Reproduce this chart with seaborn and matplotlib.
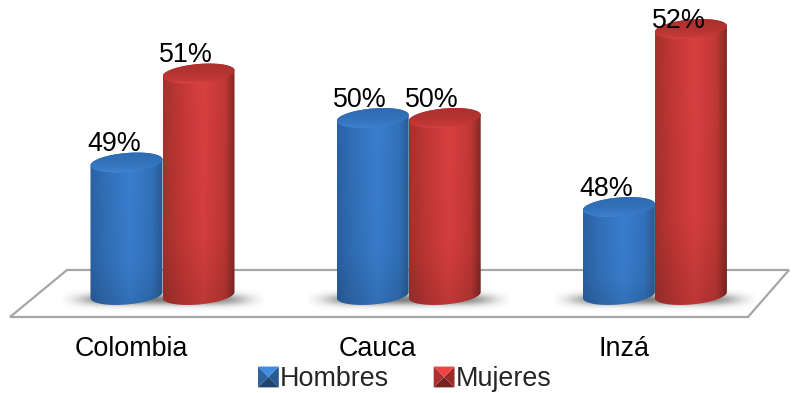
import numpy as np
import pandas as pd
import matplotlib
matplotlib.use("Agg")
import matplotlib.pyplot as plt
from matplotlib.path import Path
from matplotlib.patches import Patch, PathPatch, Polygon
from matplotlib.legend_handler import HandlerBase
import seaborn as sns

categories = ["Colombia", "Cauca", "Inzá"]
hombres = [49, 50, 48]
mujeres = [51, 50, 52]
series_names = ["Hombres", "Mujeres"]
colors = {"Hombres": "#3a7cc8", "Mujeres": "#d63c3b"}

df = pd.DataFrame({
    "lugar": categories * 2,
    "serie": [series_names[0]] * 3 + [series_names[1]] * 3,
    "pct": hombres + mujeres,
})

sns.set_theme(style="white")
plt.rcParams["font.family"] = ["Liberation Sans", "DejaVu Sans"]
W, H = 794, 393
fig = plt.figure(figsize=(W / 100, H / 100), dpi=100)
floor_px = 317
ax = fig.add_axes([0, (H - floor_px) / H, 1, floor_px / H])
sns.barplot(data=df, x="lugar", y="pct", hue="serie", palette=colors,
            width=0.585, gap=0, legend=False, ax=ax)

PX_PER_PT = 44.5
PX_PER_CAT = 246.2
base = 49 - (295 - 162.5) / PX_PER_PT
ymin, ymax = 49 - (floor_px - 162.5) / PX_PER_PT, 49 + 162.5 / PX_PER_PT
xmin, xmax = -162.5 / PX_PER_CAT, (W - 162.5) / PX_PER_CAT


def hexrgb(c):
    return np.array(matplotlib.colors.to_rgb(c))


profiles = {
    "Hombres": ["#2b62a4", "#3270b8", "#3a7fd0", "#3272bc", "#2a5a90"],
    "Mujeres": ["#a5322e", "#c03735", "#da4040", "#c03835", "#7e2623"],
}
caps = {
    "Hombres": ["#2f69ad", "#3272bb", "#3a7cc8", "#4a8fe0"],
    "Mujeres": ["#a8302d", "#b53331", "#c53a38", "#e2504e"],
}
stops = [0, 0.22, 0.55, 0.85, 1]


def outline(xc, yc, rx, ry, tilt, t):
    return xc + rx * np.cos(t), yc + ry * np.sin(t) + tilt * np.cos(t)


ry = 9.5 / PX_PER_PT
tilt = 3 / PX_PER_PT
bars = []
for name, cont in zip(series_names, ax.containers):
    for patch in cont:
        bars.append((name, patch))
        patch.set_visible(False)

# floor
floor_pts = [(67, 270), (789, 270), (748, 317), (10, 317)]
floor_axes = [(x / W, (floor_px - y) / floor_px) for x, y in floor_pts]
ax.add_patch(Polygon(floor_axes, closed=True, transform=ax.transAxes, fc="white",
                     ec="#a6a6a6", lw=1.6, zorder=1, clip_on=False))

# soft shadows under each group
gx = np.linspace(-1, 1, 240)
gy = np.linspace(-1, 1, 80)
XX, YY = np.meshgrid(gx, gy)
alpha = np.exp(-(np.abs(XX) / 0.82) ** 6) * np.exp(-(YY / 0.42) ** 2) * 0.75
shadow = np.zeros(alpha.shape + (4,))
shadow[..., :3] = 0.33
shadow[..., 3] = alpha
for i in range(len(categories)):
    half = 0.295 + 28 / PX_PER_CAT
    ax.imshow(shadow, extent=(i - half, i + half, base - 0.40, base + 0.20),
              aspect="auto", zorder=2, interpolation="bilinear")

# bars shaded from the seaborn rectangles
for order, (name, p) in enumerate(bars):
    x0, w, top = p.get_x(), p.get_width(), p.get_height()
    xc, rx = x0 + w / 2, w / 2
    prof = np.stack([hexrgb(c) for c in profiles[name]])
    u = np.linspace(0, 1, 100)
    img = np.stack([np.interp(u, stops, prof[:, k]) for k in range(3)], axis=-1)[None, :, :]
    img = np.repeat(img, 60, axis=0)
    # darker toward the foot of the cylinder
    fade = np.interp(np.linspace(0, 1, 60), [0, 0.7, 1], [1.0, 0.97, 0.86])[:, None, None]
    img = img * fade
    bx, by = outline(xc, base, rx, ry, tilt, np.linspace(np.pi, 2 * np.pi, 60))
    up_x, up_y = outline(xc, top, rx, ry, tilt, np.linspace(0, np.pi, 60))
    verts = np.r_[np.c_[bx, by], np.c_[up_x, up_y], [[bx[0], by[0]]]]
    clip = PathPatch(Path(verts), transform=ax.transData, fc="none", ec="none")
    ax.add_patch(clip)
    im = ax.imshow(img, extent=(x0, x0 + w, base - 2 * ry, top + 2 * ry), aspect="auto",
                   origin="upper", zorder=3 + order * 0.1, interpolation="bilinear")
    im.set_clip_path(clip)

    # cap
    t = np.linspace(0, 2 * np.pi, 120)
    cx, cy = outline(xc, top, rx, ry, tilt, t)
    cap_clip = PathPatch(Path(np.c_[cx, cy]), transform=ax.transData, fc="none", ec="none")
    ax.add_patch(cap_clip)
    cprof = np.stack([hexrgb(c) for c in caps[name]])
    v = np.linspace(0, 1, 40)
    cimg = np.stack([np.interp(v, [0, 0.5, 0.8, 1], cprof[:, k]) for k in range(3)], axis=-1)[:, None, :]
    cim = ax.imshow(cimg, extent=(x0, x0 + w, top - ry - tilt, top + ry + tilt), aspect="auto",
                    origin="upper", zorder=3.05 + order * 0.1, interpolation="bilinear")
    cim.set_clip_path(cap_clip)

ax.set_xlim(xmin, xmax)
ax.set_ylim(ymin, ymax)

# value labels
fs = 19.4
label_shift = -12.5 / PX_PER_CAT
label_cap = 49 + (162.5 - 28) / PX_PER_PT
for name, p in bars:
    top = p.get_height()
    ytext = min(top + ry + 0.035, label_cap)
    ax.text(p.get_x() + p.get_width() / 2 + label_shift, ytext, f"{top:.0f}%",
            ha="center", va="baseline", fontsize=fs, color="black", zorder=6)

sns.despine(ax=ax, left=True, bottom=True)
ax.patch.set_visible(False)
ax.set_xlabel("")
ax.set_ylabel("")
ax.set_yticks([])
ax.set_xticks(np.arange(len(categories)) - 0.125, labels=categories, fontsize=fs, color="black")
ax.tick_params(axis="x", length=0, pad=14)


class Bevel(HandlerBase):
    def create_artists(self, legend, orig, xd, yd, width, height, fontsize, trans):
        base_c = hexrgb(orig.get_facecolor()[:3])
        s = 15
        x0, y0 = -xd, -yd - 1
        a, b, c, d = (x0, y0), (x0 + s, y0), (x0 + s, y0 + s), (x0, y0 + s)
        m = (x0 + s / 2, y0 + s / 2)
        faces = [((a, b, m), 0.55), ((b, c, m), 0.72), ((c, d, m), 1.12), ((d, a, m), 0.8)]
        return [Polygon(tri, closed=True, fc=np.clip(base_c * k, 0, 1), ec="none", transform=trans)
                for tri, k in faces]


handles = [Patch(facecolor=colors[n], label=n) for n in series_names]
fig.legend(handles=handles, labels=series_names, ncol=2, frameon=False, fontsize=fs,
           loc="lower left", bbox_to_anchor=(258 / W, 1 / H), borderaxespad=0, borderpad=0,
           handler_map={Patch: Bevel()}, handlelength=0.62, handleheight=0.7,
           handletextpad=0.2, columnspacing=1.65)

fig.savefig("out.png", dpi=100)
